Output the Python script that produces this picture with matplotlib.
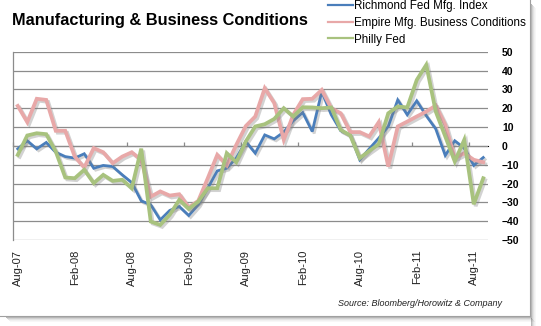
import numpy as np
import pandas as pd
import matplotlib
matplotlib.use("Agg")
import matplotlib.pyplot as plt
import matplotlib.patheffects as pe
from matplotlib.patches import Rectangle
from matplotlib.lines import Line2D

# ---------------------------------------
# Data (monthly, Aug-07 .. Sep-11)
# ---------------------------------------
months = pd.date_range("2007-08-01", periods=50, freq="MS")

richmond = [-1.6, 2.7, -1.6, 1.8, -3.4, -5.7, -6.5, -4.2, -11.9, -10.4,
            -11.0, -15.4, -19.5, -29.2, -31.3, -39.3, -34.3, -32.2, -37.0, -31.3,
            -22.5, -13.3, -11.9, -6.5, 2.3, -3.9, 5.8, 3.7, 7.3, 13.3,
            17.7, 7.6, 28.8, 16.5, 8.0, 5.8, -7.4, -1.6, 4.1, 10.3,
            24.4, 16.5, 23.9, 16.0, 9.0, -5.1, 2.7, -1.2, -10.4, -6.2]

empire = [21.2, 12.6, 25.0, 24.4, 8.0, 8.0, -5.7, -11.5, -1.2, -3.4,
          -9.2, -5.7, -3.4, -7.5, -27.0, -24.2, -26.4, -25.7, -32.7, -29.2,
          -17.2, -4.8, -10.4, 0.5, 10.5, 15.6, 30.6, 22.7, 3.2, 16.5,
          24.8, 25.0, 29.7, 20.0, 17.3, 7.3, 7.3, 5.0, 12.6, -11.0,
          10.3, 12.9, 15.6, 18.2, 21.4, 11.2, -6.5, -3.9, -7.4, -8.7]

philly = [-4.8, 5.5, 6.7, 6.2, -3.0, -16.8, -17.2, -12.7, -19.8, -15.4,
          -18.6, -18.0, -22.5, -1.5, -40.2, -42.0, -36.6, -28.7, -33.5, -29.6,
          -22.5, -22.5, -3.9, -8.7, 2.3, 10.3, 11.5, 14.3, 20.0, 15.6,
          20.5, 20.4, 20.0, 20.4, 8.5, 5.5, -6.5, -2.7, 0.9, 17.3,
          20.9, 20.4, 35.0, 43.0, 18.2, 5.0, -8.3, 3.2, -31.0, -17.2]

series_names = ["Richmond Fed Mfg. Index",
                "Empire Mfg. Business Conditions",
                "Philly Fed"]
series_colors = ["#4a7ebb", "#e8a8a8", "#a8c27e"]

tick_every = 6
tick_labels = [d.strftime("%b-%y") for d in months[::tick_every]]

# ---------------------------------------
# Figure
# ---------------------------------------
plt.rcParams["font.family"] = ["Liberation Sans", "DejaVu Sans"]

fig = plt.figure(figsize=(5.41, 3.26), dpi=100)
fig.patch.set_facecolor("white")

ax = fig.add_axes([13 / 541, 1 - 240 / 326, 475 / 541, 188.3 / 326])
x = np.arange(len(months))

shadow = [pe.SimpleLineShadow(offset=(1.4, -1.4), shadow_color="#808080", alpha=0.35),
          pe.Normal()]
for vals, name, col, lw in zip([richmond, empire, philly], series_names,
                               series_colors, [2.0, 2.7, 2.7]):
    ax.plot(x, vals, color=col, lw=lw, path_effects=shadow,
            solid_joinstyle="miter", zorder=3)

ax.set_xlim(-0.5, len(months) - 0.5)
ax.set_ylim(-50, 50)
ax.set_yticks(np.arange(-50, 51, 10))
ax.yaxis.set_ticks_position("right")
ax.tick_params(axis="y", length=0, pad=10, labelsize=7.5)
for t in ax.get_yticklabels():
    t.set_fontweight("bold")
ax.grid(axis="y", color="#8c8c8c", lw=0.9)
ax.set_axisbelow(True)

ax.set_xticks(x[::tick_every])
ax.set_xticklabels(tick_labels, rotation=90, fontsize=8, color="#222222")
ax.tick_params(axis="x", length=0, pad=7)

for s in ["top", "right", "bottom"]:
    ax.spines[s].set_visible(False)
ax.spines["left"].set_color("#8c8c8c")
ax.spines["left"].set_linewidth(0.9)

# category axis crossing at zero with small tick marks
zero_ax = ax.secondary_xaxis(0.5)
zero_ax.set_xticks(np.arange(-0.5, len(months), tick_every))
zero_ax.set_xticklabels([])
zero_ax.tick_params(length=3, color="#8c8c8c", width=0.9)
zero_ax.spines["bottom"].set_color("#8c8c8c")
zero_ax.spines["bottom"].set_linewidth(0.9)

# title, legend, source
fig.text(12 / 541, 1 - 20 / 326, "Manufacturing & Business Conditions",
         fontsize=11.8, fontweight="bold", va="center", ha="left")

handles = [Line2D([], [], color=c, lw=1.6) for c in series_colors]
fig.legend(handles, series_names, loc="upper left",
           bbox_to_anchor=(327 / 541, 1 + 1 / 326),
           frameon=False, fontsize=8.4, handlelength=2.1, handletextpad=0.15,
           labelspacing=0.4, borderaxespad=0, borderpad=0.1)

fig.text(502 / 541, 1 - 303 / 326, "Source: Bloomberg/Horowitz & Company",
         fontsize=6.5, style="italic", ha="right", va="center", color="#222222")

# drop shadow frame around the chart
for k, a in enumerate([0.28, 0.18, 0.11, 0.06, 0.03]):
    fig.add_artist(Rectangle(((531 + k) / 541, 0 + 0), 1 / 541, 1 - (4 + k) / 326,
                             transform=fig.transFigure, color="black", alpha=a, lw=0))
    fig.add_artist(Rectangle(((6 + k) / 541, 1 - (318 + k) / 326), 525 / 541, 1 / 326,
                             transform=fig.transFigure, color="black", alpha=a, lw=0))
fig.add_artist(Line2D([530 / 541, 530 / 541], [1, 1 - 316 / 326],
                      transform=fig.transFigure, color="#a0a0a0", lw=0.8))
fig.add_artist(Line2D([0, 530 / 541], [1 - 316 / 326, 1 - 316 / 326],
                      transform=fig.transFigure, color="#a0a0a0", lw=0.8))

fig.savefig("out.png", dpi=100, facecolor="white")
